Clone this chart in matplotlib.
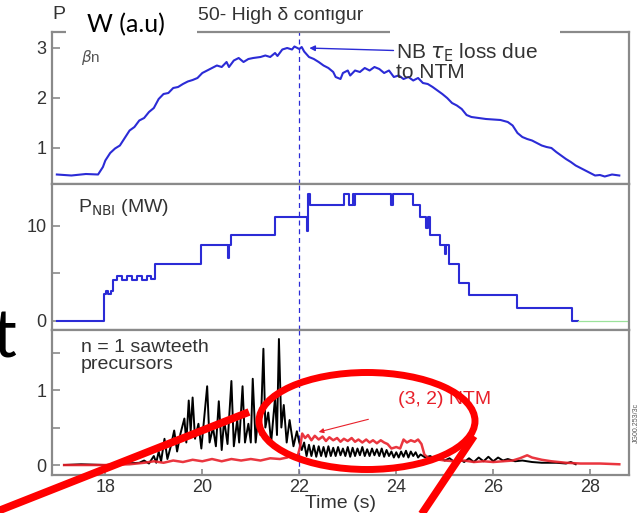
import matplotlib
matplotlib.use('Agg')
import matplotlib.pyplot as plt
from matplotlib.patches import Ellipse, Rectangle
from matplotlib.lines import Line2D

# ---- data ----
beta_t = [17.0, 17.3, 17.6, 17.85, 17.95, 18.0, 18.1, 18.2, 18.3, 18.4, 18.5, 18.6, 18.7, 18.8, 18.9,
          19.0, 19.1, 19.2, 19.3, 19.4, 19.5, 19.6, 19.7, 19.8, 19.9, 20.0, 20.1, 20.2, 20.3, 20.4,
          20.5, 20.55, 20.65, 20.75, 20.85, 20.95, 21.05, 21.2, 21.3, 21.4, 21.5, 21.55, 21.65, 21.75,
          21.85, 21.9, 22.0, 22.05, 22.1, 22.2, 22.3, 22.4, 22.5, 22.6, 22.7, 22.75, 22.85, 22.9, 23.0,
          23.05, 23.15, 23.25, 23.35, 23.45, 23.55, 23.65, 23.75, 23.85, 23.95, 24.05, 24.15, 24.25,
          24.35, 24.45, 24.55, 24.65, 24.75, 24.85, 24.95, 25.05, 25.15, 25.25, 25.35, 25.45, 25.55,
          25.7, 25.85, 26.0, 26.15, 26.3, 26.4, 26.5, 26.6, 26.7, 26.8, 26.9, 27.0, 27.1, 27.2, 27.3,
          27.4, 27.5, 27.6, 27.7, 27.8, 27.9, 28.0, 28.1, 28.2, 28.3, 28.45, 28.6]
beta_v = [0.47, 0.45, 0.48, 0.47, 0.62, 0.75, 0.9, 0.99, 1.05, 1.2, 1.35, 1.42, 1.55, 1.6, 1.72,
          1.8, 1.98, 2.08, 2.1, 2.2, 2.22, 2.28, 2.33, 2.36, 2.4, 2.5, 2.55, 2.6, 2.65, 2.62,
          2.72, 2.62, 2.75, 2.8, 2.72, 2.78, 2.8, 2.82, 2.85, 2.82, 2.9, 2.84, 2.97, 3.0,
          2.97, 3.03, 2.98, 3.02, 2.93, 2.82, 2.78, 2.72, 2.65, 2.6, 2.52, 2.42, 2.38, 2.5, 2.55,
          2.45, 2.55, 2.52, 2.6, 2.55, 2.62, 2.58, 2.5, 2.55, 2.42, 2.45, 2.38, 2.42,
          2.35, 2.4, 2.3, 2.28, 2.22, 2.15, 2.08, 2.0, 1.9, 1.85, 1.78, 1.66, 1.62,
          1.6, 1.58, 1.57, 1.56, 1.52, 1.45, 1.3, 1.22, 1.18, 1.15, 1.1, 1.05, 1.02, 1.0, 0.92,
          0.85, 0.78, 0.72, 0.65, 0.6, 0.55, 0.5, 0.45, 0.46, 0.43, 0.47, 0.45]

nbi_t = [17.0, 17.97, 18.02, 18.06, 18.12, 18.16, 18.25, 18.35, 18.45, 18.55, 18.65, 18.75, 18.85,
         18.95, 19.02, 19.98, 20.52, 20.56, 20.6, 21.5, 22.15, 22.19, 22.22, 22.93, 23.02, 23.1,
         23.12, 23.14, 23.9, 23.93, 24.35, 24.48, 24.62, 24.65, 24.7, 24.9, 25.0, 25.03, 25.08,
         25.3, 25.5, 26.5, 27.62, 27.75]
nbi_v = [0, 2.8, 3.2, 2.8, 3.2, 4.3, 4.7, 4.3, 4.7, 4.3, 4.7, 4.3, 4.7,
         4.4, 6.0, 8.0, 6.6, 8.0, 9.0, 10.9, 9.5, 13.4, 12.25, 13.4, 12.2, 13.4,
         12.2, 13.4, 12.2, 13.4, 12.25, 10.9, 9.8, 10.9, 9.0, 8.0, 7.0, 8.0, 6.0,
         4.0, 2.7, 1.4, 0, 0]
nbi_off_t = [27.75, 28.75]
nbi_off_v = [0, 0]

saw_t = [17.15, 17.5, 18.0, 18.4, 18.7, 18.8, 18.9, 19.0, 19.05, 19.1, 19.15, 19.22, 19.28, 19.35,
         19.42, 19.48, 19.55, 19.63, 19.67, 19.72, 19.76, 19.8, 19.85, 19.92, 19.98, 20.1, 20.15,
         20.22, 20.28, 20.34, 20.4, 20.45, 20.52, 20.6, 20.65, 20.72, 20.76, 20.83, 20.88, 20.95,
         21.0, 21.04, 21.1, 21.15, 21.2, 21.26, 21.3, 21.36, 21.42, 21.5, 21.54, 21.58, 21.63,
         21.68, 21.74, 21.8, 21.88, 21.95, 22.0, 22.05, 22.1, 22.15, 22.2, 22.25, 22.3, 22.35,
         22.4, 22.45, 22.5, 22.55, 22.6, 22.65, 22.7, 22.75, 22.8, 22.85, 22.9, 22.95, 23.0,
         23.05, 23.1, 23.15, 23.2, 23.25, 23.3, 23.35, 23.4, 23.45, 23.5, 23.55, 23.6, 23.65,
         23.7, 23.75, 23.8, 23.85, 23.9, 23.95, 24.0, 24.05, 24.1, 24.15, 24.2, 24.25, 24.3,
         24.35, 24.4, 24.45, 24.5, 24.6, 24.7, 24.8, 24.9, 25.0, 25.1, 25.2, 25.3, 25.4, 25.5,
         25.6, 25.7, 25.8, 25.9, 26.0, 26.1, 26.2, 26.3, 26.45, 26.6, 26.8, 27.0, 27.3, 27.5,
         27.6, 27.7]
saw_v = [0.0, 0.01, 0.0, 0.02, 0.03, 0.06, 0.02, 0.12, 0.03, 0.18, 0.05, 0.35, 0.08, 0.25,
         0.46, 0.18, 0.42, 0.62, 0.3, 0.86, 0.45, 0.9, 0.35, 0.55, 0.22, 1.05, 0.3,
         0.5, 0.25, 0.85, 0.2, 0.6, 0.28, 1.12, 0.25, 0.6, 0.3, 1.05, 0.3, 0.55,
         0.3, 1.15, 0.3, 0.62, 0.4, 1.55, 0.5, 0.7, 0.3, 0.9, 0.4, 1.68, 0.5,
         0.8, 0.3, 0.6, 0.25, 0.45, 0.3, 0.2, 0.3, 0.12, 0.27, 0.12, 0.26, 0.11,
         0.25, 0.12, 0.24, 0.11, 0.25, 0.12, 0.23, 0.12, 0.24, 0.13, 0.22, 0.12, 0.24,
         0.11, 0.23, 0.12, 0.22, 0.13, 0.24, 0.12, 0.21, 0.12, 0.22, 0.13, 0.21, 0.12,
         0.22, 0.11, 0.2, 0.12, 0.18, 0.1, 0.17, 0.1, 0.18, 0.11, 0.19, 0.1, 0.18,
         0.12, 0.17, 0.1, 0.14, 0.1, 0.12, 0.08, 0.1, 0.06, 0.09, 0.04, 0.08, 0.04, 0.09,
         0.04, 0.1, 0.05, 0.11, 0.05, 0.1, 0.06, 0.08, 0.05, 0.06, 0.04, 0.03, 0.03, 0.02,
         0.04, 0.01]

ntm_t = [17.15, 18.0, 18.5, 18.8, 19.0, 19.2, 19.4, 19.6, 19.8, 20.0, 20.2, 20.4, 20.6, 20.8,
         21.0, 21.2, 21.4, 21.6, 21.75, 21.85, 21.92, 21.97, 22.02, 22.06, 22.12, 22.18, 22.25,
         22.32, 22.4, 22.48, 22.55, 22.62, 22.7, 22.78, 22.85, 22.92, 23.0, 23.08, 23.15, 23.22,
         23.3, 23.38, 23.45, 23.52, 23.6, 23.68, 23.75, 23.82, 23.9, 24.0, 24.08, 24.15, 24.22,
         24.3, 24.38, 24.45, 24.52, 24.58, 24.65, 24.8, 25.0, 25.2, 25.4, 25.6, 25.8, 26.0,
         26.2, 26.4, 26.55, 26.7, 26.8, 27.0, 27.2, 27.5, 27.8, 28.2, 28.6]
ntm_v = [0.0, 0.0, 0.01, 0.03, 0.05, 0.03, 0.06, 0.04, 0.07, 0.05, 0.08, 0.05, 0.08, 0.06,
         0.08, 0.06, 0.09, 0.08, 0.1, 0.14, 0.1, 0.13, 0.25, 0.42, 0.36, 0.4, 0.33,
         0.39, 0.34, 0.38, 0.32, 0.37, 0.33, 0.36, 0.31, 0.35, 0.32, 0.36, 0.31, 0.34,
         0.3, 0.34, 0.3, 0.33, 0.29, 0.33, 0.3, 0.28, 0.22, 0.24, 0.22, 0.34, 0.3,
         0.33, 0.31, 0.34, 0.28, 0.14, 0.1, 0.08, 0.06, 0.05, 0.06, 0.04, 0.05, 0.04,
         0.05, 0.06, 0.09, 0.13, 0.1, 0.07, 0.05, 0.03, 0.02, 0.02, 0.01]

x_ticks = [18, 20, 22, 24, 26, 28]
t_event = 22.0

# ---- figure ----
W, H = 641, 513
plt.rcParams['font.family'] = ['Liberation Sans', 'DejaVu Sans']
fig = plt.figure(figsize=(W / 100, H / 100), dpi=100)


def fx(x):
    return x / W


def fy(y):
    return 1 - y / H


frame = '#8a8a8a'
txt = '#333333'
blue = '#2b2bd6'


def panel(top, bottom):
    ax = fig.add_axes([fx(52), fy(bottom), fx(629) - fx(52), fy(top) - fy(bottom)])
    ax.set_xlim(16.9, 28.8)
    for s in ax.spines.values():
        s.set_color(frame)
        s.set_linewidth(1.6)
    ax.tick_params(axis='y', direction='in', length=6, color=frame, labelsize=13,
                   labelcolor=txt, pad=4, width=1.2)
    ax.tick_params(axis='x', direction='in', length=4, color=frame, labelsize=13,
                   labelcolor=txt, width=1.2)
    ax.axvline(t_event, color=blue, lw=0.9, ls=(0, (4, 3)), zorder=1)
    return ax


ax1 = panel(32, 184)
ax2 = panel(184, 330)
ax3 = panel(330, 475)

# beta_n
ax1.plot(beta_t, beta_v, color=blue, lw=1.5)
ax1.set_ylim(0.28, 3.32)
ax1.set_yticks([1, 2, 3])
ax1.set_xticks([])
ax1.text(0.05, 0.83, r'$\beta$n', transform=ax1.transAxes, fontsize=11, color='#555555',
         ha='left', va='center')

# P_NBI
ax2.step(nbi_t, nbi_v, where='post', color=blue, lw=1.5)
ax2.plot(nbi_off_t, nbi_off_v, color='#9be29b', lw=0.9)
ax2.set_ylim(-0.95, 14.42)
ax2.set_yticks([0, 5, 10])
ax2.set_yticklabels(['0', '', '10'])
ax2.set_xticks([])
ax2.text(0.045, 0.84, r'P$_{\mathrm{NBI}}$ (MW)', transform=ax2.transAxes, fontsize=14,
         color=txt, va='center')

# sawteeth precursors and NTM
ax3.plot(saw_t, saw_v, color='black', lw=1.4)
ax3.plot(ntm_t, ntm_v, color='#e8202a', lw=1.8, alpha=0.9)
ax3.set_ylim(-0.133, 1.8)
ax3.set_yticks([0, 0.5, 1, 1.5])
ax3.set_yticklabels(['0', '', '1', ''])
ax3.set_xticks(x_ticks)
ax3.tick_params(axis='x', pad=3)
ax3.set_xlabel('Time (s)', fontsize=14, color=txt, labelpad=-1)
ax3.text(0.05, 0.94, 'n = 1 sawteeth\nprecursors', transform=ax3.transAxes, fontsize=14,
         color=txt, va='top', linespacing=1.05)
ax3.annotate('(3, 2) NTM', xy=(22.4, 0.44), xytext=(25.0, 0.87), fontsize=14, color='#e8202a',
             ha='center', va='center',
             arrowprops=dict(arrowstyle='-|>', color='#e8202a', lw=0.8, mutation_scale=7,
                             shrinkA=24, shrinkB=0))

# annotation on top panel
ax1.annotate('NB $\\tau_\\mathrm{E}$ loss due\nto NTM', xy=(22.15, 3.0), xytext=(24.0, 2.72),
             fontsize=15, color=txt, ha='left', va='center', linespacing=0.95,
             arrowprops=dict(arrowstyle='-|>', color=blue, lw=1.0, mutation_scale=8,
                             shrinkA=0, shrinkB=2, relpos=(0, 0.78)))

ax3.text(1.012, 0.22, 'JG00.253/3c', transform=ax3.transAxes, rotation=90, fontsize=5,
         color='#555555', va='bottom', ha='center')

# title partially hidden by slide boxes
fig.text(fx(52), fy(15), 'P', fontsize=14, color=txt, va='center')
fig.text(fx(198), fy(16), '50- High δ configur', fontsize=14, color=txt, va='center')
fig.add_artist(Rectangle((fx(315), fy(9)), fx(100), fy(0) - fy(9), transform=fig.transFigure,
                         fc='white', ec='none', zorder=4))
fig.add_artist(Rectangle((fx(390), fy(40)), fx(170), fy(22) - fy(40), transform=fig.transFigure,
                         fc='white', ec='none', zorder=4))
fig.add_artist(Rectangle((fx(66), fy(42)), fx(131), fy(0) - fy(42), transform=fig.transFigure,
                         fc='white', ec='none', zorder=4))
fig.text(fx(87), fy(25), 'W (a.u)', fontsize=18, family=['Lato', 'DejaVu Sans'],
         color='black', va='center', zorder=5)

# slide text peeking in from the left
fig.text(fx(-7), fy(357), 't', fontsize=48, family=['Lato', 'DejaVu Sans'], color='black',
         va='baseline', zorder=5)

# red slide overlays
red = '#ff0000'
fig.add_artist(Ellipse((fx(367), fy(421)), fx(216), fy(0) - fy(97), transform=fig.transFigure,
                       fill=False, ec=red, lw=5, zorder=6))
fig.add_artist(Line2D([fx(-2), fx(249)], [fy(511), fy(412)], transform=fig.transFigure,
                      color=red, lw=5.5, solid_capstyle='butt', zorder=6))
fig.add_artist(Line2D([fx(474), fx(421)], [fy(436), fy(515)], transform=fig.transFigure,
                      color=red, lw=5.5, solid_capstyle='butt', zorder=6))

fig.savefig('out.png', dpi=100)
